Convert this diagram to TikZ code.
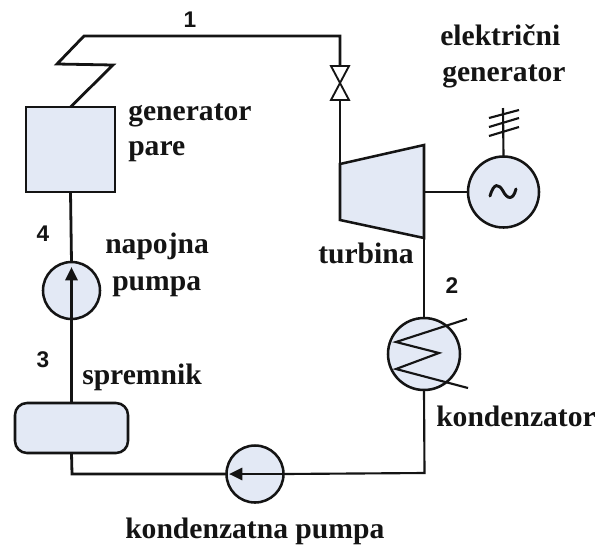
\documentclass[tikz,border=0pt]{standalone}
\usepackage{fontspec}
\setmainfont{Liberation Serif}
\newfontfamily\numfont{Liberation Sans}
\usetikzlibrary{arrows.meta}
\definecolor{unitfill}{HTML}{E3E9F5}
\definecolor{ink}{HTML}{141414}
\tikzset{
  pipe/.style={draw=ink,line width=2.1pt,line join=miter},
  thin pipe/.style={draw=ink,line width=1.6pt},
  unit/.style={draw=ink,line width=1.9pt,fill=unitfill,inner sep=0pt,outer sep=0pt},
  round unit/.style={unit,circle},
  lab/.style={font=\bfseries\fontsize{22.2}{24}\selectfont,text=ink,inner sep=0pt,anchor=base west},
  num/.style={font=\numfont\bfseries\fontsize{17}{19}\selectfont,text=ink,inner sep=0pt},
  flow/.style={pipe,-{Triangle[length=10pt,width=9pt]}}
}
\begin{document}
\begin{tikzpicture}[x=0.75pt,y=-0.75pt]
\useasboundingbox[fill=white] (0,0) rectangle (603,547);
% units
\node[unit,minimum width=66.75pt,minimum height=63.75pt] (sg) at (70.5,149.5) {};
\node[round unit,minimum size=42.75pt] (fp) at (71.5,290.5) {};
\node[unit,rounded corners=9pt,minimum width=84.75pt,minimum height=37.5pt] (tank) at (71.5,428) {};
\node[round unit,minimum size=42.75pt] (cp) at (255,474) {};
\node[round unit,minimum size=54pt] (cond) at (424,354) {};
\node[round unit,minimum size=53.25pt] (gen) at (503.5,192) {};
% sine symbol
\coordinate (s1) at (490,196);
\coordinate (s2) at (516,189);
\draw[draw=ink,line width=2.2pt,line cap=round] (s1) .. controls (494,182) and (499,184) .. (503,191) .. controls (507,199) and (513,201) .. (s2);
% turbine
\coordinate (t1) at (340,164);
\coordinate (t2) at (424,145);
\coordinate (t3) at (424,238);
\coordinate (t4) at (340,220);
\coordinate (tshaft) at (424,192);
\path[unit] (t1) -- (t2) -- (t3) -- (t4) -- cycle;
% valve
\coordinate (v1) at (331,66);
\coordinate (v2) at (349,66);
\coordinate (v3) at (331,100);
\coordinate (v4) at (349,100);
\draw[draw=ink,line width=1.4pt,line join=miter] (v1) -- (v2) -- (v3) -- (v4) -- cycle;
% steam line
\coordinate (z1) at (113,65);
\coordinate (z2) at (57,64);
\coordinate (z3) at (84,36);
\coordinate (c1) at (340,36);
\coordinate (vtop) at (340,66);
\coordinate (vbot) at (340,100);
\draw[pipe] (sg.north) -- (z1) -- (z2) -- (z3) -- (c1) -- (vtop);
\draw[pipe] (vbot) -- (t1);
% shaft and generator
\draw[pipe] (tshaft) -- (gen.west);
\coordinate (mast) at (503,108);
\draw[thin pipe] (gen.north) -- (mast);
\coordinate (a1) at (489,118); \coordinate (a2) at (519,110);
\coordinate (b1) at (489,127); \coordinate (b2) at (519,118);
\coordinate (d1) at (489,136); \coordinate (d2) at (519,127);
\draw[thin pipe] (a1) -- (a2) (b1) -- (b2) (d1) -- (d2);
% turbine to condenser
\draw[pipe] (t3) -- (cond.north);
% coil
\coordinate (k1) at (467,319);
\coordinate (k2) at (396,342);
\coordinate (k3) at (439,353);
\coordinate (k4) at (396,369);
\coordinate (k5) at (468,388);
\draw[thin pipe,line join=miter] (k1) -- (k2) -- (k3) -- (k4) -- (k5);
% condensate line
\coordinate (c2) at (424.5,473);
\coordinate (c3) at (72,474);
\draw[thin pipe] (cond.south) -- (c2) -- (cp.east);
\coordinate (ctip) at (229,474);
\draw[flow] (cp.east) -- (ctip);
\draw[pipe] (cp.west) -- (c3) -- (tank.south);
% feed line
\coordinate (ftip) at (71.5,267);
\draw[flow] (tank.north) -- (ftip);
\draw[pipe] (fp.north) -- (sg.south);
% labels
\node[num] (n1) at (190,20) {1};
\node[num] (n2) at (452,286) {2};
\node[num] (n3) at (43,360) {3};
\node[num] (n4) at (43,234) {4};
\node[lab] (lsg1) at (128,120) {generator};
\node[lab] (lsg2) at (128,155) {pare};
\node[lab] (lfp1) at (105,253) {napojna};
\node[lab] (lfp2) at (112,290) {pumpa};
\node[lab] (ltank) at (82,384) {spremnik};
\node[lab] (lcp) at (125,538) {kondenzatna pumpa};
\node[lab] (lcond) at (436,426) {kondenzator};
\node[lab] (lturb) at (318,263) {turbina};
\node[lab] (lgen1) at (440,45) {električni};
\node[lab] (lgen2) at (442,81) {generator};
\end{tikzpicture}
\end{document}
